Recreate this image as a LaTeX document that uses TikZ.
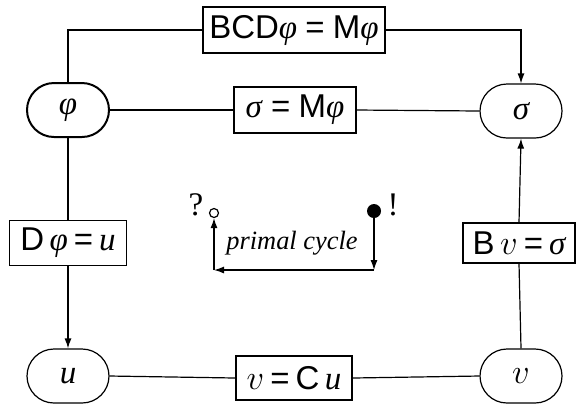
\documentclass[tikz,border=0pt]{standalone}
\usepackage{fontspec}
\setmainfont{Liberation Serif}
\setsansfont{Liberation Sans}
\usetikzlibrary{arrows.meta}
\newcommand{\vphi}{{\itshape φ}}
\newcommand{\vsig}{{\itshape σ}}
\newcommand{\vu}{{\itshape u}}
\newcommand{\vv}{$v$}
\newcommand{\sfeq}{\ \textsf{=}\ }
\newcommand{\sfeqs}{\hspace{3pt}\textsf{=}\hspace{3pt}}
\begin{document}
\begin{tikzpicture}[x=0.5pt,y=-0.5pt,
  every node/.style={font=\fontsize{16.5}{19}\selectfont},
  state/.style={draw, line width=0.6pt, rounded corners=13.5pt, minimum width=41pt, minimum height=27pt, inner sep=0pt},
  eqbox/.style={draw, line width=0.6pt, inner xsep=3pt, inner ysep=0pt, fill=white},
  conn/.style={line width=0.6pt},
  arr/.style={line width=0.6pt, -{Latex[length=5pt,width=3.5pt]}}
]
\useasboundingbox (0,0) rectangle (576,404);
% state nodes
\node[state, line width=1pt] (phi) at (68,110) {\vphi};
\node[state] (sigma) at (521,111) {\vsig};
\node[state] (u) at (68,376) {\vu};
\node[state] (v) at (521,376) {\vv};
% equation boxes
\node[eqbox, line width=1pt, minimum width=91pt, minimum height=23pt] (bcd) at (294,30) {\textsf{BCD}\vphi\sfeq\textsf{M}\vphi};
\node[eqbox, minimum width=61pt, minimum height=23pt] (m) at (295,110) {\vsig\sfeq\textsf{M}\vphi};
\node[eqbox, minimum width=58.5pt, minimum height=22.5pt] (d) at (68,243) {\textsf{D}\,\vphi\sfeqs\vu};
\node[eqbox, minimum width=56pt, minimum height=20pt] (b) at (519,243) {\textsf{B}\,\vv\sfeqs\vsig};
\node[eqbox, minimum width=58pt, minimum height=22pt] (c) at (294,378) {\vv\sfeqs\textsf{C}\,\vu};
% connectors
\draw[conn] (phi.north) |- (bcd.west);
\draw[arr] (bcd.east) -| (sigma.north);
\draw[conn] (phi.east) -- (m.west);
\draw[conn] (m.east) -- (sigma.west);
\draw[conn] (phi.south) -- (d.north);
\draw[arr] (d.south) -- (u.north);
\draw[conn] (u.east) -- (c.west);
\draw[conn] (c.east) -- (v.west);
\draw[conn] (v.north) -- (b.south);
\draw[arr] (b.north) -- (sigma.south);
% primal cycle
\node[draw, circle, line width=0.6pt, minimum size=4.5pt, inner sep=0pt] (open) at (214,213) {};
\node[fill, circle, minimum size=7pt, inner sep=0pt] (full) at (374,211) {};
\node (q) at (196,205) {?};
\node (ex) at (393,205) {!};
\node[font=\fontsize{13.2}{16}\selectfont\itshape] (pc) at (292,243) {primal cycle};
\coordinate (br) at (374,270);
\coordinate (bl) at (214,270);
\draw[arr] (full.south) -- (br);
\draw[arr] (br) -- (bl);
\draw[arr] (bl) -- (open.south);
\end{tikzpicture}
\end{document}
